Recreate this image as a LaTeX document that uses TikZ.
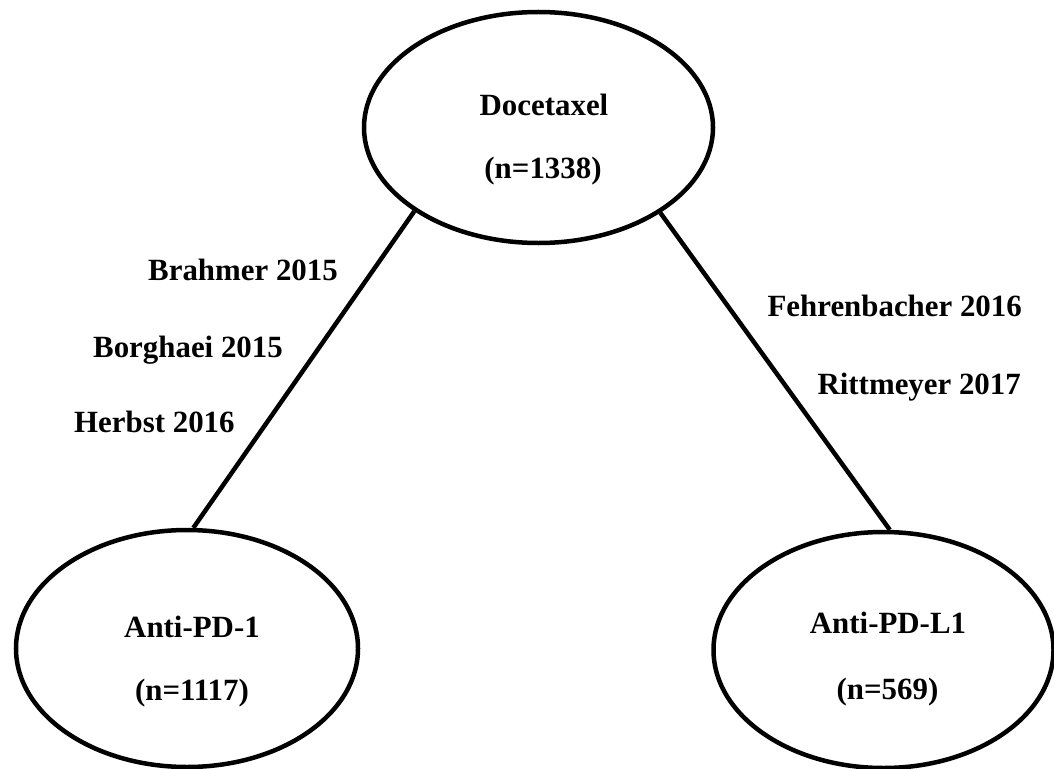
\documentclass[tikz,border=0pt]{standalone}
\usepackage{fontspec}
\setmainfont{Liberation Serif}
\usetikzlibrary{shapes.geometric}
\begin{document}
\begin{tikzpicture}[x=1bp,y=-1bp,
  ell/.style={draw, ellipse, line width=4.5bp, inner sep=0pt},
  lbl/.style={font=\fontsize{31}{37}\selectfont\bfseries, inner sep=0pt, anchor=base},
  link/.style={line width=4.5bp}]
\useasboundingbox[fill=white] (0,0) rectangle (1054,769);
\node[ell, minimum width=349bp, minimum height=231bp] (doc) at (538.5,127.5) {};
\node[ell, minimum width=342bp, minimum height=237bp] (pd1) at (187,648.5) {};
\node[ell, minimum width=340bp, minimum height=236bp] (pdl1) at (883.5,650) {};
\node[lbl] (t1) at (544,115) {Docetaxel};
\node[lbl] (n1) at (543,178) {(n=1338)};
\node[lbl] (t2) at (192,637) {Anti-PD-1};
\node[lbl] (n2) at (192,700) {(n=1117)};
\node[lbl] (t3) at (888,633) {Anti-PD-L1};
\node[lbl] (n3) at (887.5,699) {(n=569)};
\node[lbl, anchor=base west] (s1) at (148,280) {Brahmer 2015};
\node[lbl, anchor=base west] (s2) at (93,357) {Borghaei 2015};
\node[lbl, anchor=base west] (s3) at (74,432) {Herbst 2016};
\node[lbl, anchor=base east] (s4) at (1022,316) {Fehrenbacher 2016};
\node[lbl, anchor=base east] (s5) at (1021,394) {Rittmeyer 2017};
\draw[link] (doc.214.7) -- (pd1.87.6);
\draw[link] (doc.325.5) -- (pdl1.87.8);
\end{tikzpicture}
\end{document}
